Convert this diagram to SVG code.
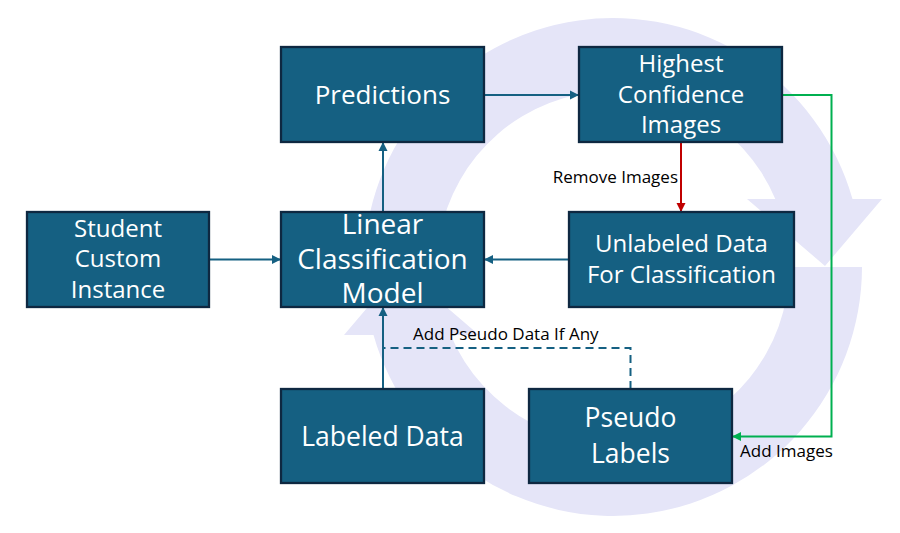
<svg xmlns="http://www.w3.org/2000/svg" width="900" height="533" viewBox="0 0 900 533">
<style>
.bg{fill:#E5E5F8;stroke:none}
.box{fill:#156082;stroke:#0E2841;stroke-width:2.3}
.t{font-family:"Open Sans","Liberation Sans",sans-serif;fill:#FFFFFF;text-anchor:middle}
.lbl{font-family:"Open Sans","Liberation Sans",sans-serif;fill:#000000;font-size:17px}
.ln{fill:none;stroke:#156082;stroke-width:2}
.red{fill:none;stroke:#C00000;stroke-width:2}
.grn{fill:none;stroke:#00B050;stroke-width:2}
</style>
<defs>
<marker id="ab" viewBox="0 0 10 10" markerUnits="userSpaceOnUse" markerWidth="9" markerHeight="10" refX="10" refY="5" orient="auto"><path d="M0,0 L10,5 L0,10 z" fill="#156082"/></marker>
<marker id="ar" viewBox="0 0 10 10" markerUnits="userSpaceOnUse" markerWidth="9" markerHeight="10" refX="10" refY="5" orient="auto"><path d="M0,0 L10,5 L0,10 z" fill="#C00000"/></marker>
<marker id="ag" viewBox="0 0 10 10" markerUnits="userSpaceOnUse" markerWidth="9" markerHeight="10" refX="10" refY="5" orient="auto"><path d="M0,0 L10,5 L0,10 z" fill="#00B050"/></marker>
</defs>
<rect width="900" height="533" fill="#FFFFFF"/>
<g id="cycle">
<path class="bg" d="M 364 267 A 249 249 0 0 1 852.5 199 L 882 199 L 825 266 L 747 199 L 775.3 199 A 176 176 0 0 0 437 267 Z"/>
<path class="bg" d="M 862 267 A 249 249 0 0 1 373.5 335 L 344 335 L 401 268 L 479 335 L 450.7 335 A 176 176 0 0 0 789 267 Z"/>
</g>
<g id="connectors">
<line class="ln" x1="209" y1="259.5" x2="281" y2="259.5" marker-end="url(#ab)"/>
<line class="ln" x1="383" y1="212" x2="383" y2="142" marker-end="url(#ab)"/>
<line class="ln" x1="484" y1="95" x2="579" y2="95" marker-end="url(#ab)"/>
<line class="red" x1="681" y1="142" x2="681" y2="212" marker-end="url(#ar)"/>
<line class="ln" x1="569" y1="259.5" x2="484" y2="259.5" marker-end="url(#ab)"/>
<line class="ln" x1="383" y1="389" x2="383" y2="307" marker-end="url(#ab)"/>
<polyline class="ln" points="630.5,389 630.5,348 383,348" stroke-dasharray="8,5"/>
<polyline class="grn" points="782,95 831.5,95 831.5,436.5 732,436.5" marker-end="url(#ag)"/>
<text class="lbl" x="678" y="183" text-anchor="end">Remove Images</text>
<text class="lbl" x="413" y="340">Add Pseudo Data If Any</text>
<text class="lbl" x="740" y="457">Add Images</text>
</g>
<g id="predictions">
<rect class="box" x="281" y="47" width="203" height="95"/>
<text class="t" x="382.5" y="104" font-size="26">Predictions</text>
</g>
<g id="highest-confidence">
<rect class="box" x="579" y="47" width="203" height="95"/>
<text class="t" font-size="24"><tspan x="681" y="72">Highest</tspan><tspan x="681" y="102.5">Confidence</tspan><tspan x="681" y="133">Images</tspan></text>
</g>
<g id="student">
<rect class="box" x="27" y="212" width="182" height="95"/>
<text class="t" font-size="24"><tspan x="118" y="236.5">Student</tspan><tspan x="118" y="267">Custom</tspan><tspan x="118" y="297.5">Instance</tspan></text>
</g>
<g id="linear-model">
<rect class="box" x="281" y="212" width="203" height="95"/>
<text class="t" font-size="28"><tspan x="382.5" y="234">Linear</tspan><tspan x="382.5" y="268.5">Classification</tspan><tspan x="382.5" y="303">Model</tspan></text>
</g>
<g id="unlabeled">
<rect class="box" x="569" y="212" width="225" height="95"/>
<text class="t" font-size="24"><tspan x="681.5" y="252">Unlabeled Data</tspan><tspan x="681.5" y="282.5">For Classification</tspan></text>
</g>
<g id="labeled">
<rect class="box" x="281" y="389" width="203" height="94"/>
<text class="t" x="382.5" y="445.5" font-size="26.5">Labeled Data</text>
</g>
<g id="pseudo">
<rect class="box" x="529" y="389" width="203" height="94"/>
<text class="t" font-size="26.5"><tspan x="630.5" y="427">Pseudo</tspan><tspan x="630.5" y="463">Labels</tspan></text>
</g>
</svg>
